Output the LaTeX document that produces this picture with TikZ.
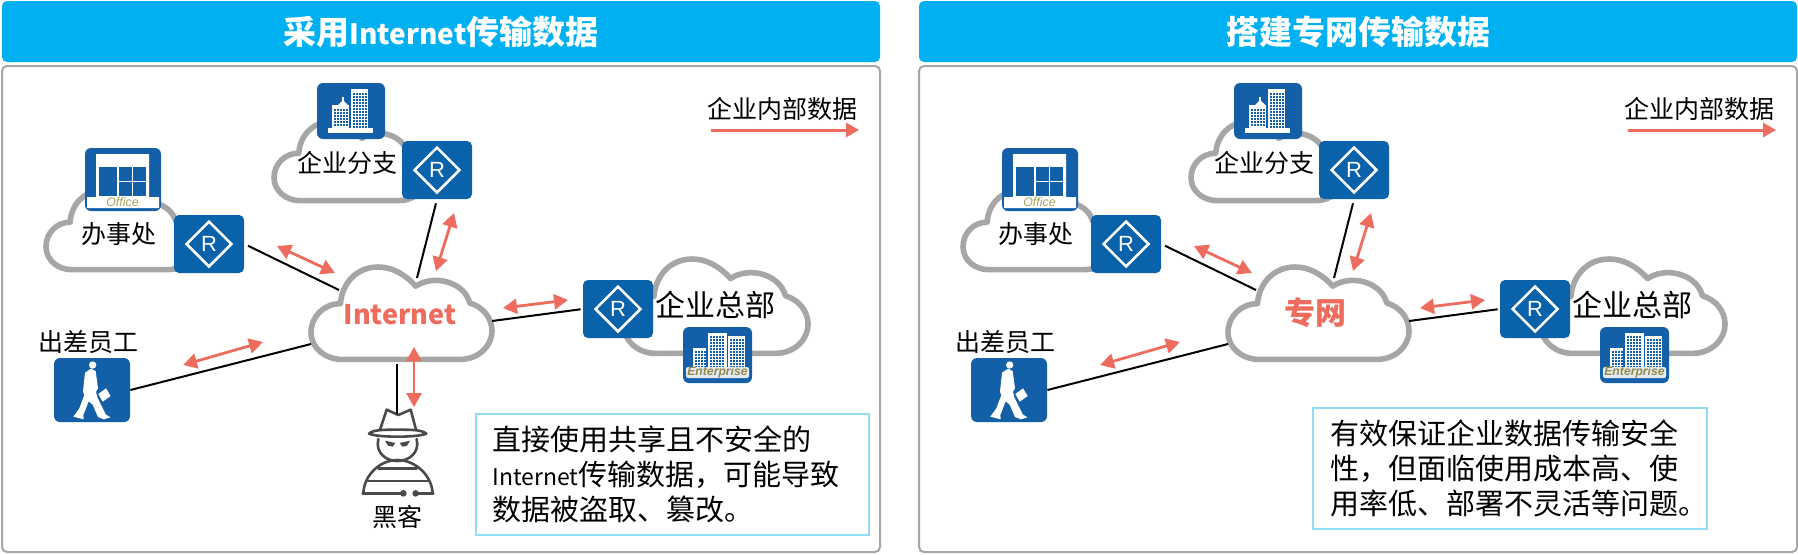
\documentclass[tikz,border=0pt]{standalone}
\usepackage{fontspec}
\setmainfont{Noto Sans CJK SC}
\newfontfamily\lib{Liberation Sans}
\usetikzlibrary{arrows.meta,shapes.geometric}
\definecolor{hdr}{HTML}{00B0F0}
\definecolor{panelgray}{HTML}{A6A6A6}
\definecolor{cloudgray}{HTML}{A6A6A6}
\definecolor{routerblue}{HTML}{0A62AB}
\definecolor{iconblue}{HTML}{1460A8}
\definecolor{salmon}{HTML}{EE6C5D}
\definecolor{boxblue}{HTML}{92DCF6}
\definecolor{hackgray}{HTML}{4A4A4A}
\tikzset{
  header/.style={fill=hdr,rounded corners=2.5pt,minimum width=439pt,minimum height=30.5pt,inner sep=0pt,text=white,font=\fontsize{16.5}{18}\selectfont\bfseries},
  panelbox/.style={draw=panelgray,line width=1pt,fill=white,rounded corners=2.5pt,minimum width=439pt,minimum height=243pt,inner sep=0pt},
  cloudline/.style={draw=cloudgray,fill=white,line width=2.8pt,line join=round},
  router/.style={fill=routerblue,rounded corners=2.5pt,minimum width=35pt,minimum height=29pt,inner sep=0pt},
  routermark/.style={diamond,draw=white,line width=1.25pt,minimum width=23pt,minimum height=23pt,inner sep=0pt,text=white,font=\lib\fontsize{11}{11}\selectfont},
  iconbox/.style={fill=iconblue,rounded corners=3pt,inner sep=0pt},
  lbl/.style={inner sep=0pt,font=\fontsize{12.5}{14}\selectfont},
  bigl/.style={inner sep=0pt,font=\fontsize{15}{16}\selectfont},
  link/.style={draw=black,line width=1pt},
  flow/.style={draw=salmon,line width=1.4pt,{Triangle[length=7pt,width=7.5pt]}-{Triangle[length=7pt,width=7.5pt]}},
  flowone/.style={draw=salmon,line width=1.5pt,-{Triangle[length=6.5pt,width=7pt]}},
  note/.style={draw=boxblue,line width=1.2pt,fill=white,inner sep=0pt},
  notetext/.style={inner sep=0pt,align=left,anchor=west,font=\fontsize{14.5}{17.4}\selectfont},
  cloudword/.style={inner sep=0pt,text=salmon,font=\bfseries},
  hk/.style={draw=hackgray,line width=1.3pt,line cap=round,line join=round},
}
% cloud outline: left, top, width, height in pixels
\newcommand\cloudat[4]{%
  \begin{scope}[shift={(#1,#2)},xscale=#3/553,yscale=#4/295]
    \path[cloudline] (95,290) -- (455,290) .. controls (510,290) and (553,250) .. (553,200)
      .. controls (553,160) and (525,125) .. (485,113)
      .. controls (470,50) and (380,20) .. (320,60)
      .. controls (285,20) and (245,0) .. (205,0)
      .. controls (140,0) and (95,50) .. (90,115)
      .. controls (40,115) and (0,155) .. (0,205)
      .. controls (0,255) and (45,290) .. (95,290) -- cycle;
  \end{scope}}
\newcommand\routerat[3]{%
  \node[router] (#1) at (#2,#3) {};
  \node[routermark] (#1m) at (#1) {R};}
\newcommand\windows[4]{%
  \foreach \i in {0,...,#3}{\foreach \j in {0,...,#4}{%
    \fill[iconblue] (#1+\i*3,#2+\j*3) rectangle +(2,2);}}}
\newcommand\officeicon[1]{%
  \node[iconbox,minimum width=38pt,minimum height=31.5pt] (#1) at (123,179.5) {};
  \fill[white] (96,154) -- (149,154) -- (149,197) -- (159,197) -- (159,208) -- (87,208) -- (87,197) -- (96,197) -- cycle;
  \fill[iconblue] (99,167) rectangle (117,196);
  \fill[iconblue] (119,167) rectangle (131.8,180.8);
  \fill[iconblue] (133.2,167) rectangle (146,180.8);
  \fill[iconblue] (119,182.2) rectangle (131.8,196);
  \fill[iconblue] (133.2,182.2) rectangle (146,196);
  \node[inner sep=0pt,text={rgb,255:red,168;green,160;blue,96},font=\lib\itshape\fontsize{6.2}{7}\selectfont] (#1t) at (122.5,202.5) {Office};}
\newcommand\buildingicon[1]{%
  \node[iconbox,minimum width=34pt,minimum height=28pt] (#1) at (351,111) {};
  \fill[white] (328,128) rectangle (373,133);
  \fill[white] (351,89) rectangle (368,128.5);
  \fill[white] (332,105) rectangle (349,128.5);
  \fill[white] (342,97) rectangle (344,105);
  \fill[white] (338,105) -- (343,100) -- (348,105) -- cycle;
  \windows{353}{93}{4}{11}
  \windows{334}{109}{4}{5}}
\newcommand\enterpriseicon[1]{%
  \node[iconbox,minimum width=34.5pt,minimum height=28pt] (#1) at (717.5,355) {};
  \fill[white] (693,348) rectangle (706,369);
  \fill[white] (708,333) rectangle (727,369);
  \fill[white] (728,336) rectangle (745,369);
  \windows{695}{351}{3}{5}
  \windows{710}{336}{4}{10}
  \windows{730}{339}{4}{9}
  \fill[white!88!iconblue,rounded corners=1pt] (686,367) rectangle (749,378);
  \node[inner sep=0pt,text={rgb,255:red,150;green,135;blue,70},font=\lib\bfseries\itshape\fontsize{6.1}{7}\selectfont] (#1t) at (717.5,372.5) {Enterprise};}
\newcommand\walkericon[1]{%
  \node[iconbox,minimum width=38pt,minimum height=32pt] (#1) at (92,390) {};
  \begin{scope}[shift={(30,320)},x=0.16667pt,y=-0.16667pt]
    \fill[white] (188,135) circle[radius=11];
    \fill[white] (183,146) -- (197,153) -- (204,205) -- (198,215) -- (202,232) -- (227,283) -- (241,292) -- (222,298) -- (204,291) -- (188,254) -- (176,244) -- (160,285) -- (161,298) -- (130,290) -- (148,265) -- (163,225) -- (159,215) -- (165,158) -- cycle;
    \fill[white] (205,222) -- (228,205) -- (242,228) -- (218,245) -- cycle;
  \end{scope}}
\newcommand\hackericon[1]{%
  \node[inner sep=0pt,minimum width=36pt,minimum height=41pt] (#1) at (397,455) {};
  \begin{scope}[shift={(350,405)},x=0.16667pt,y=-0.16667pt]
    \draw[hk] (90,74) -- (110,14) -- (145,30) -- (182,14) -- (198,74);
    \draw[hk] (57,86) .. controls (70,74) and (100,74) .. (142,74) .. controls (185,74) and (215,74) .. (229,86) .. controls (200,98) and (85,98) .. (57,86) -- cycle;
    \draw[hk] (85,102) .. controls (75,145) and (110,168) .. (142,168) .. controls (175,168) and (210,145) .. (200,102);
    \fill[hackgray] (105,107) -- (136,114) -- (128,125) -- (114,122) -- cycle;
    \fill[hackgray] (180,107) -- (149,114) -- (157,125) -- (171,122) -- cycle;
    \draw[hk] (40,265) .. controls (42,210) and (90,165) .. (142,165) .. controls (195,165) and (245,210) .. (248,265);
    \draw[hk] (85,190) -- (200,190);
    \draw[hk] (52,228) -- (235,228);
    \draw[hk] (38,265) -- (160,265);
    \draw[hk] (197,265) -- (250,265);
    \fill[hackgray] (160,265) circle[radius=10];
    \fill[hackgray] (197,265) circle[radius=10];
  \end{scope}}
% everything both panels share; #1 name prefix
\newcommand\common[1]{%
  \cloudat{46}{191}{148}{80}
  \cloudat{274}{122}{152}{80}
  \cloudat{624}{259}{184}{96}
  \cloudat{311}{267}{181}{94}
  \officeicon{#1office}
  \buildingicon{#1branch}
  \enterpriseicon{#1hq}
  \walkericon{#1walker}
  \routerat{#1r1}{209}{244}
  \routerat{#1r2}{437}{170}
  \routerat{#1r3}{618}{309}
  \node[lbl] (#1t1) at (119,234) {办事处};
  \node[lbl] (#1t2) at (347,163) {企业分支};
  \node[bigl] (#1t3) at (715,305) {企业总部};
  \node[lbl] (#1t4) at (88,342) {出差员工};
  \node[lbl] (#1leg) at (782,109) {企业内部数据};
  \coordinate (#1c1) at (339,290);
  \coordinate (#1c2) at (417,278);
  \coordinate (#1c3) at (492,321);
  \coordinate (#1c4) at (311,344);
  \draw[link,shorten <=2pt] (#1r1.east) -- (#1c1);
  \draw[link,shorten <=2pt] (#1r2.south) -- (#1c2);
  \draw[link,shorten <=1pt] (#1r3.west) -- (#1c3);
  \draw[link] (#1walker.east) -- (#1c4);
  \coordinate (#1a1) at (277,246); \coordinate (#1b1) at (335,273);
  \coordinate (#1a2) at (454,213); \coordinate (#1b2) at (436,271);
  \coordinate (#1a3) at (503,308); \coordinate (#1b3) at (568,300);
  \coordinate (#1a4) at (183,365); \coordinate (#1b4) at (263,342);
  \coordinate (#1a5) at (711,130); \coordinate (#1b5) at (859,130);
  \draw[flow] (#1a1) -- (#1b1);
  \draw[flow] (#1a2) -- (#1b2);
  \draw[flow] (#1a3) -- (#1b3);
  \draw[flow] (#1a4) -- (#1b4);
  \draw[flowone] (#1a5) -- (#1b5);}
\begin{document}
\begin{tikzpicture}[x=0.5pt,y=-0.5pt]
\useasboundingbox (0,0) rectangle (1798,554);
\fill[white] (0,0) rectangle (1798,554);
% left panel
\node[panelbox] (pL) at (441,309) {};
\node[header] (hL) at (441,31.5) {采用{\fontsize{14}{18}\selectfont Internet}传输数据};
\common{L}
\node[cloudword,font=\fontsize{13.5}{15}\selectfont\bfseries] (wL) at (400,315) {Internet};
\hackericon{Lhk}
\node[lbl] (Lhkt) at (397,517) {黑客};
\coordinate (Lc5) at (397,364);
\draw[link] (Lc5) -- (Lhk.north);
\coordinate (La6) at (414,347); \coordinate (Lb6) at (414,407);
\draw[flow] (La6) -- (Lb6);
\node[note,minimum width=196.5pt,minimum height=60.5pt] (nL) at (672.5,474.5) {};
\node[notetext] (nLt) at (492,474.5) {直接使用共享且不安全的\\{\fontsize{11.5}{17.4}\selectfont Internet}传输数据，可能导致\\数据被盗取、篡改。};
% right panel
\begin{scope}[shift={(917,0)}]
\node[panelbox] (pR) at (441,309) {};
\node[header] (hR) at (441,31.5) {搭建专网传输数据};
\common{R}
\node[cloudword,font=\fontsize{15.5}{17}\selectfont\bfseries] (wR) at (398,313) {专网};
\node[note,minimum width=197pt,minimum height=60.5pt] (nR) at (593,468.5) {};
\node[notetext] (nRt) at (413,468.5) {有效保证企业数据传输安全\\性，但面临使用成本高、使\\用率低、部署不灵活等问题。};
\end{scope}
\end{tikzpicture}
\end{document}
